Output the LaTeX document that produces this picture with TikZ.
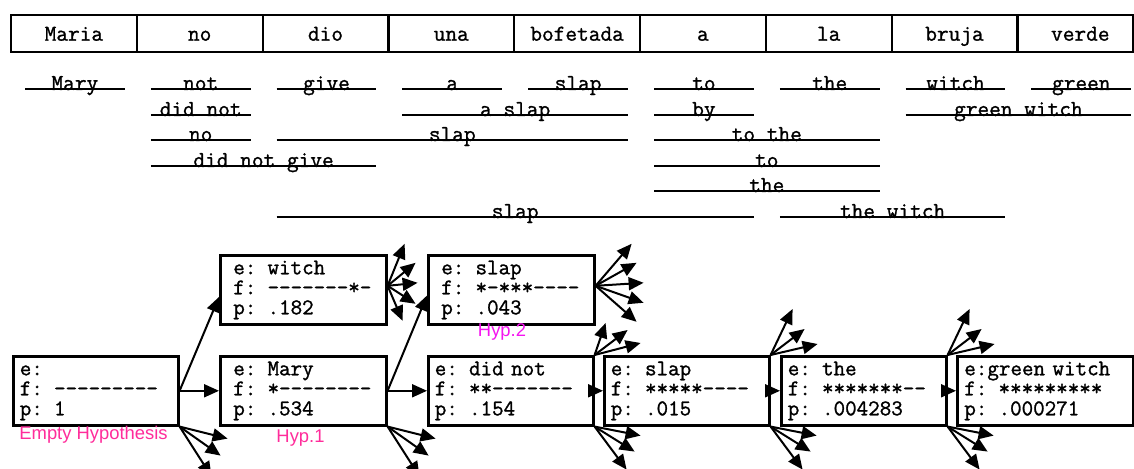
\documentclass[tikz,border=0pt]{standalone}
\usepackage{fontspec}
\setmainfont{Liberation Serif}
\setsansfont{Liberation Sans}
\newfontfamily\cour{Latin Modern Mono}[FakeBold=1.2]
\usetikzlibrary{arrows.meta,calc}
\definecolor{hyppink}{RGB}{255,45,155}
\definecolor{hypmag}{RGB}{245,20,240}
\tikzset{
  tbl/.style={line width=1.1pt},
  optline/.style={line width=0.9pt},
  wordtxt/.style={font=\cour\fontsize{11.35}{12}\selectfont, inner sep=0pt, anchor=base},
  hyp/.style={draw, line width=1.3pt, rectangle, inner sep=0pt,
    text height=9.5pt, text depth=25pt, anchor=north west,
    font=\cour\fontsize{11.2}{10}\selectfont},
  widepad/.style={text width=83pt, execute at begin node={\leftskip=6.5pt\rightskip=0pt plus 1fil\parindent=0pt}},
  narrowpad/.style={text width=82.5pt, execute at begin node={\leftskip=3.25pt\rightskip=0pt plus 1fil\parindent=0pt}},
  greenpad/.style={text width=88pt, execute at begin node={\leftskip=3.5pt\rightskip=0pt plus 1fil\parindent=0pt}},
  conn/.style={line width=1pt, -{Triangle[length=7.5pt,width=6.5pt]}},
  lab/.style={font=\sffamily\fontsize{9.2}{11}\selectfont, inner sep=0pt}
}
\begin{document}
\begin{tikzpicture}[x=0.5pt,y=-0.5pt]
\useasboundingbox (0,0) rectangle (1134,469);
\fill[white] (0,0) rectangle (1134,469);

% source sentence table
\draw[tbl] (11,15) rectangle (1133,52);
\foreach \i in {1,...,8} \draw[tbl] (11+125.8*\i,15) -- (11+125.8*\i,52);
\foreach \w [count=\i from 0] in {Maria,no,dio,una,bofetada,a,la,bruja,verde}
  \node[wordtxt] (w\i) at (11+125.8*\i+62.9,40.7) {\w};

% translation options
\foreach \yy/\a/\b/\t in {
  89/0/0/Mary, 89/1/1/not, 89/2/2/give, 89/3/3/a, 89/4/4/slap,
  89/5/5/to, 89/6/6/the, 89/7/7/witch, 89/8/8/green,
  115/1/1/did not, 115/3/4/a slap, 115/5/5/by, 115/7/8/green witch,
  140/1/1/no, 140/2/4/slap, 140/5/6/to the,
  166/1/2/did not give, 166/5/6/to,
  191/5/6/the,
  217/2/5/slap, 217/6/7/the witch}
{
  \draw[optline] (11+125.8*\a+14,\yy) -- (11+125.8*\b+125.8-12,\yy)
    node[wordtxt, midway, yshift=-0.5pt] (o\yy-\a) {\t};
}

% hypothesis boxes
\node[hyp, narrowpad] (e)  at (12,355)  {e:\\f: ---------\\p: 1};
\node[hyp, widepad]   (w)  at (219,254) {e: witch\\f: -------*-\\p: .182};
\node[hyp, widepad]   (m)  at (219,355) {e: Mary\\f: *--------\\p: .534};
\node[hyp, widepad]   (s1) at (427,254) {e: slap\\f: *-***----\\p: .043};
\node[hyp, narrowpad] (dn) at (427,355) {e: did not\\f: **-------\\p: .154};
\node[hyp, narrowpad] (s2) at (603,355) {e: slap\\f: *****----\\p: .015};
\node[hyp, narrowpad] (th) at (780,355) {e: the\\f: *******--\\p: .004283};
\node[hyp, greenpad]  (gw) at (956,355) {e:green witch\\f: *********\\p: .000271};

% labels
\node[lab, hyppink, anchor=base west] (lE) at (19,440) {Empty Hypothesis};
\node[lab, hyppink, anchor=base] (l1) at (300.5,443) {Hyp.1};
\node[lab, hypmag, anchor=base] (l2) at (502,337) {Hyp.2};

% main connectors
\draw[conn] (e.east) -- (m.west);
\draw[conn] (e.east) -- ($(w.south west)!0.4!(w.north west)$);
\draw[conn] (m.east) -- (dn.west);
\draw[conn] (m.east) -- ($(s1.south west)!0.42!(s1.north west)$);
\draw[conn] (dn.east) -- (s2.west);
\draw[conn] (s2.east) -- (th.west);
\draw[conn] (th.east) -- (gw.west);

% fans of further expansions
\foreach \dx/\dy in {17/-42, 28/-23, 30/-3, 28/18, 15/35}
  \draw[conn] ($(w.east)+(0,-4)$) -- ++(\dx,\dy);
\foreach \dx/\dy in {36/-42, 41/-23, 48/-3, 48/17, 41/36}
  \draw[conn] ($(s1.east)+(0,-4)$) -- ++(\dx,\dy);
\foreach \dx/\dy in {48/12, 41/29, 32/50} {
  \draw[conn] (e.south east) -- ++(\dx,\dy);
  \draw[conn] (m.south east) -- ++(\dx,\dy);
}
\foreach \dx/\dy in {11/-32, 33/-25, 46/-12}
  \draw[conn] (dn.north east) -- ++(\dx,\dy);
\foreach \dx/\dy in {22/-46, 34/-26, 47/-11} {
  \draw[conn] (s2.north east) -- ++(\dx,\dy);
  \draw[conn] (th.north east) -- ++(\dx,\dy);
}
\foreach \dx/\dy in {46/9, 40/25, 32/43} {
  \draw[conn] (dn.south east) -- ++(\dx,\dy);
  \draw[conn] (s2.south east) -- ++(\dx,\dy);
  \draw[conn] (th.south east) -- ++(\dx,\dy);
}
\end{tikzpicture}
\end{document}
